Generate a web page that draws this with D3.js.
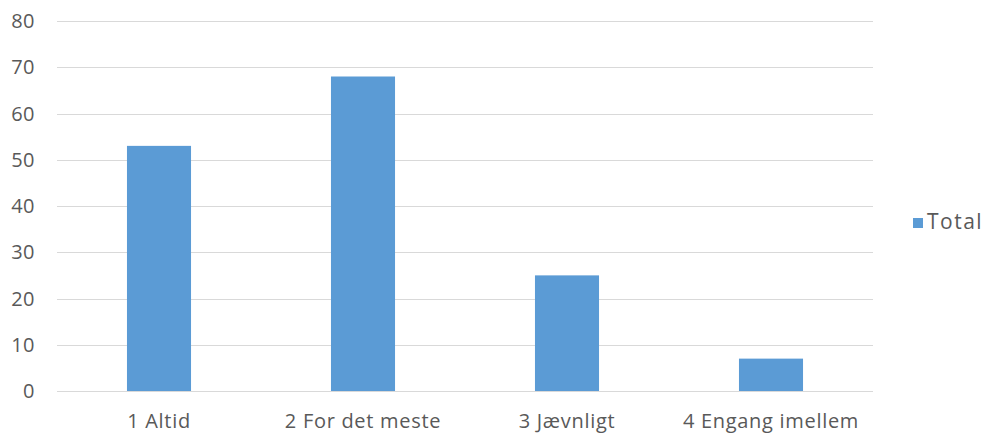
<!DOCTYPE html>
<html>
<head>
<meta charset="utf-8">
<script src="https://cdn.jsdelivr.net/npm/d3@7"></script>
<style>
  html, body { margin: 0; padding: 0; background: #fff; }
  svg { display: block; }
  text { font-family: "Open Sans", "Liberation Sans", sans-serif; fill: #595959; }
</style>
</head>
<body>
<svg id="chart" width="986" height="438"></svg>
<script>
const categories = ["1 Altid", "2 For det meste", "3 Jævnligt", "4 Engang imellem"];
const totals = [53, 68, 25, 7];
const yTicks = [0, 10, 20, 30, 40, 50, 60, 70, 80];
const seriesName = "Total";

const svg = d3.select("#chart");
const plot = { left: 57, right: 873, top: 21, bottom: 391 };

const x = d3.scaleBand()
  .domain(categories)
  .range([plot.left, plot.right])
  .paddingInner(0.686)
  .paddingOuter(0.343);

const y = d3.scaleLinear()
  .domain([0, 80])
  .range([plot.bottom, plot.top]);

// gridlines
svg.append("g")
  .selectAll("line")
  .data(yTicks)
  .join("line")
  .attr("x1", plot.left)
  .attr("x2", plot.right)
  .attr("y1", d => Math.round(y(d)) + 0.5)
  .attr("y2", d => Math.round(y(d)) + 0.5)
  .attr("stroke", "#D9D9D9")
  .attr("stroke-width", 1);

// y labels
svg.append("g")
  .selectAll("text")
  .data(yTicks)
  .join("text")
  .attr("x", 35)
  .attr("y", d => y(d))
  .attr("dy", "0.36em")
  .attr("text-anchor", "end")
  .attr("font-size", 20)
  .attr("letter-spacing", 0.5)
  .text(d => d);

// bars
svg.append("g")
  .selectAll("rect")
  .data(categories)
  .join("rect")
  .attr("x", d => x(d))
  .attr("width", x.bandwidth())
  .attr("y", (d, i) => y(totals[i]))
  .attr("height", (d, i) => y(0) - y(totals[i]))
  .attr("fill", "#5B9BD5");

// x labels
svg.append("g")
  .selectAll("text")
  .data(categories)
  .join("text")
  .attr("x", d => x(d) + x.bandwidth() / 2)
  .attr("y", 428)
  .attr("text-anchor", "middle")
  .attr("font-size", 20)
  .attr("letter-spacing", 0.7)
  .text(d => d);

// legend
const legend = svg.append("g");
legend.append("rect")
  .attr("x", 913).attr("y", 218)
  .attr("width", 10).attr("height", 10)
  .attr("fill", "#5B9BD5");
legend.append("text")
  .attr("x", 927).attr("y", 229)
  .attr("font-size", 21)
  .attr("letter-spacing", 1.5)
  .text(seriesName);
</script>
</body>
</html>
